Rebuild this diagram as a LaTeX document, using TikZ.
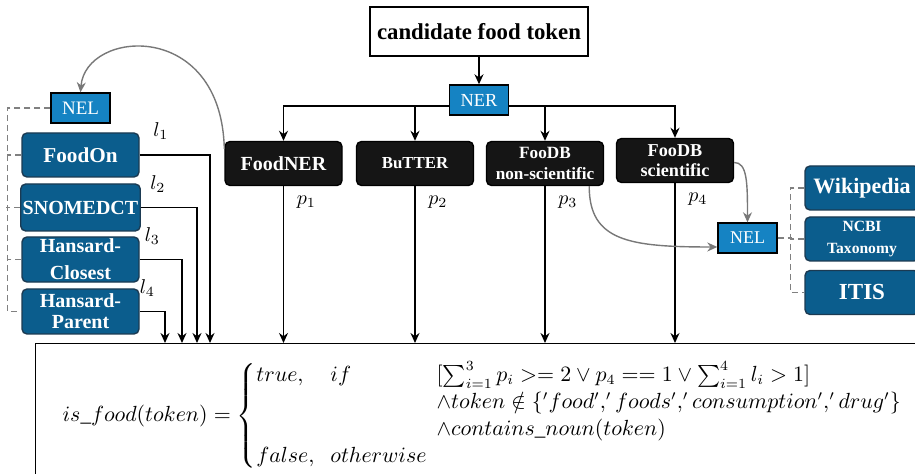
\documentclass[tikz,border=0pt]{standalone}
\usepackage{amsmath}
\usepackage[no-math]{fontspec}
\setmainfont{Liberation Serif}
\usetikzlibrary{arrows.meta}
\definecolor{nerblue}{HTML}{1583C3}
\definecolor{kbblue}{HTML}{0B5D8D}
\definecolor{kbedge}{HTML}{1B3A52}
\definecolor{tooldark}{HTML}{151515}
\definecolor{linkgray}{HTML}{787878}

\begin{document}
\begin{tikzpicture}[x=0.5pt,y=-0.5pt,line width=0.7pt,>={Stealth[length=5pt,width=4.5pt]},
	tool/.style={fill=tooldark,draw=black,rounded corners=2.5pt,text=white,align=center,minimum width=58.5pt,minimum height=22pt,inner sep=1pt},
	kb/.style={fill=kbblue,draw=kbedge,rounded corners=2.5pt,text=white,align=center,minimum width=58.5pt,minimum height=22pt,inner sep=1pt},
	tag/.style={fill=nerblue,draw=black,text=white,minimum width=29.5pt,minimum height=15pt,inner sep=0pt},
	kbline/.style={draw=gray,dash pattern=on 3pt off 2pt,line width=0.6pt},
	link/.style={draw=linkgray,->}]
	\useasboundingbox (0,0) rectangle (915,474);
	\node[draw,minimum width=109pt,minimum height=24.5pt,font=\fontsize{11.4}{13}\selectfont\bfseries] (cand) at (479,31.5) {candidate food token};
	\node[tag,font=\fontsize{9.2}{11}\selectfont] (ner) at (479,100) {NER};
	\node[tool,font=\fontsize{10}{12}\selectfont\bfseries] (foodner) at (283.5,163.5) {FoodNER};
	\node[tool,font=\fontsize{8.4}{10}\selectfont\bfseries] (butter) at (415,163.5) {BuTTER};
	\node[tool,font=\fontsize{8.6}{10.5}\selectfont\bfseries] (fdbns) at (545,163.5) {FooDB\\non-scientific};
	\node[tool,font=\fontsize{9.1}{10}\selectfont\bfseries] (fdbs) at (675,160.5) {FooDB\\scientific};
	\node[tag,font=\fontsize{9.5}{11}\selectfont] (nelL) at (80.5,108) {NEL};
	\node[kb,font=\fontsize{10.6}{12}\selectfont\bfseries] (foodon) at (80.5,155) {FoodOn};
	\node[kb,minimum height=23.5pt,font=\fontsize{10}{12}\selectfont\bfseries] (snomed) at (80.5,207.5) {SNOMEDCT};
	\node[kb,minimum height=22.5pt,font=\fontsize{10}{13.5}\selectfont\bfseries] (hclose) at (80.5,259.5) {Hansard-\\Closest};
	\node[kb,minimum height=22.5pt,font=\fontsize{10}{10.5}\selectfont\bfseries] (hparent) at (80.5,311.5) {Hansard-\\Parent};
	\node[tag,font=\fontsize{9}{11}\selectfont] (nelR) at (747.5,238) {NEL};
	\node[kb,minimum width=57pt,font=\fontsize{11}{12}\selectfont\bfseries] (wiki) at (862,188) {Wikipedia};
	\node[kb,minimum width=57pt,font=\fontsize{7.8}{11}\selectfont\bfseries] (ncbi) at (862,239) {NCBI\\Taxonomy};
	\node[kb,minimum width=57pt,font=\fontsize{11.5}{12}\selectfont\bfseries] (itis) at (862,292.5) {ITIS};
	\node[draw,anchor=north west,minimum width=452.5pt,minimum height=78.5pt] (rule) at (35,343) {};
	\node[anchor=west,inner sep=0pt,font=\fontsize{10.5}{13.5}\selectfont] (isfood) at (62,416) {$is\_food(token) = \left\{\begin{array}{@{}l@{\hspace{8pt}}l@{\hspace{5pt}}l@{}}
		true, & if & [\sum_{i=1}^{3} p_i >= 2 \lor p_4 == 1 \lor \sum_{i=1}^{4} l_i > 1]\\
		& & \land token \notin \{'food',' foods',' consumption',' drug'\}\\
		& & \land contains\_noun(token)\\
		false, & otherwise &
	\end{array}\right.$};
	\coordinate (in1) at (210,343);
	\coordinate (in2) at (197,343);
	\coordinate (in3) at (182,343);
	\coordinate (in4) at (165,343);

	\draw[->] (cand) -- (ner);
	\draw[->] ([yshift=-3pt]ner.west) -| (foodner);
	\draw[->] ([yshift=-3pt]ner.west) -| (butter);
	\draw[->] ([yshift=-3pt]ner.east) -| (fdbns);
	\draw[->] ([yshift=-3pt]ner.east) -| (fdbs);
	\foreach \t/\k in {foodner/1,butter/2,fdbns/3,fdbs/4}
		\draw[->] (\t) -- node[pos=0.1,right=3pt] {$p_{\k}$} (\t |- rule.north);
	\foreach \b/\k in {foodon/1,snomed/2,hclose/3,hparent/4}
		\draw[->] (\b) -| node[pos=0.15,above=4pt] {$l_{\k}$} (in\k);

	\draw[kbline] (nelL.west) -| ([xshift=-7pt]hparent.west) -- (hparent.west);
	\foreach \b in {foodon,snomed,hclose}
		\draw[kbline] (\b.west) -- ++(-7pt,0);
	\draw[kbline] (nelR.east) -- ++(7pt,0);
	\draw[kbline] (wiki.west) -- ++(-7pt,0) |- (itis.west);
	\draw[kbline] (ncbi.west) -- ++(-7pt,0);

	\draw[link] ([yshift=-4pt]foodner.north west) .. controls +(-3,-130) and +(5,-63) .. (nelL.north);
	\draw[link] ([xshift=-7.5pt]fdbns.south east) .. controls +(0,55) and +(-88,0) .. ([yshift=-4.5pt]nelR.west);
	\draw[link] ([yshift=-1pt]fdbs.east) .. controls +(13,0) and +(0,-40) .. (nelR.north);
\end{tikzpicture}
\end{document}
